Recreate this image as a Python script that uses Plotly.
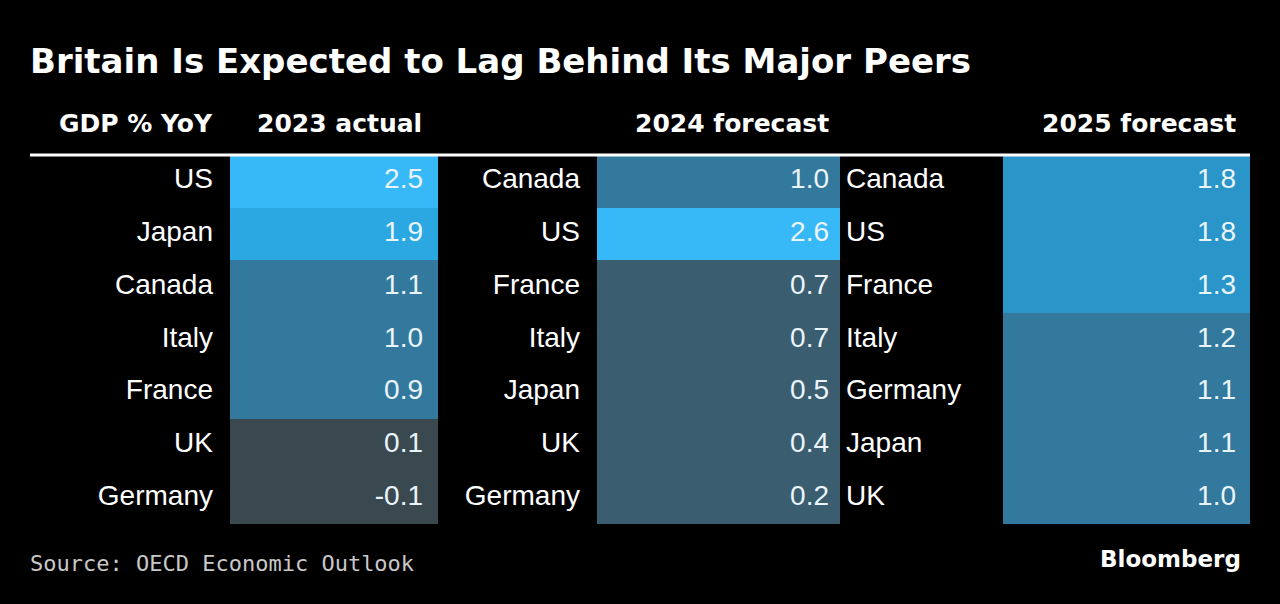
import plotly.graph_objects as go

# ---------------- data ----------------
col_headers = ["2023 actual", "2024 forecast", "2025 forecast"]
countries_2023 = ["US", "Japan", "Canada", "Italy", "France", "UK", "Germany"]
gdp_2023 = [2.5, 1.9, 1.1, 1.0, 0.9, 0.1, -0.1]
countries_2024 = ["Canada", "US", "France", "Italy", "Japan", "UK", "Germany"]
gdp_2024 = [1.0, 2.6, 0.7, 0.7, 0.5, 0.4, 0.2]
countries_2025 = ["Canada", "US", "France", "Italy", "Germany", "Japan", "UK"]
gdp_2025 = [1.8, 1.8, 1.3, 1.2, 1.1, 1.1, 1.0]

# colour bins (lower thresholds) and colours
bin_edges = [-99, 0.15, 0.85, 1.25, 1.85, 2.2]
bin_colors = ["#3A4850", "#3A5D70", "#32799D", "#2A95C9", "#2BA8E2", "#36B9F6"]

# ---------------- layout constants ----------------
W, H = 1280, 604
TOP, BOTTOM = 155, 524
cols = [
    dict(countries=countries_2023, vals=gdp_2023, cell=(230, 438), label_x=213, label_anchor="left", val_x=423, head_x=424),
    dict(countries=countries_2024, vals=gdp_2024, cell=(597, 840), label_x=580, label_anchor="left", val_x=829, head_x=831),
    dict(countries=countries_2025, vals=gdp_2025, cell=(1003, 1250), label_x=846, label_anchor="right", val_x=1236, head_x=1238),
]
LABEL_FONT = dict(family="Liberation Sans, Arial, sans-serif", size=28, color="#FFFFFF")
VAL_FONT = dict(family="Liberation Sans, Arial, sans-serif", size=28, color="#EAF4FA")
BOLD_FAMILY = "DejaVu Sans, Verdana, sans-serif"

def bin_index(v):
    idx = 0
    for i, e in enumerate(bin_edges):
        if v >= e:
            idx = i
    return idx

n_bins = len(bin_colors)
colorscale = []
for i, c in enumerate(bin_colors):
    colorscale.append([i / n_bins, c])
    colorscale.append([(i + 1) / n_bins, c])

fig = go.Figure()
for col in cols:
    n = len(col["vals"])
    row_h = (BOTTOM - TOP) / n
    y_edges = [TOP + i * row_h for i in range(n + 1)]
    y_centers = [TOP + (i + 0.5) * row_h for i in range(n)]
    z = [[bin_index(v) + 0.5] for v in col["vals"]]
    fig.add_trace(go.Heatmap(
        x=list(col["cell"]), y=y_edges, z=z,
        zmin=0, zmax=n_bins, colorscale=colorscale, showscale=False,
        hoverinfo="skip",
    ))
    fig.add_trace(go.Scatter(
        x=[col["val_x"]] * n, y=y_centers, mode="text",
        text=[f"{v:.1f}" for v in col["vals"]],
        textposition="middle left", textfont=VAL_FONT, hoverinfo="skip",
    ))
    fig.add_trace(go.Scatter(
        x=[col["label_x"]] * n, y=y_centers, mode="text",
        text=col["countries"],
        textposition="middle " + col["label_anchor"], textfont=LABEL_FONT, hoverinfo="skip",
    ))

annotations = [
    dict(text="<b>Britain Is Expected to Lag Behind Its Major Peers</b>", x=28, y=61,
         xanchor="left", yanchor="middle", showarrow=False,
         font=dict(family=BOLD_FAMILY, size=34, color="#FFFFFF")),
    dict(text="<b>GDP % YoY</b>", x=215, y=123, xanchor="right", yanchor="middle", showarrow=False,
         font=dict(family=BOLD_FAMILY, size=25, color="#FFFFFF")),
    dict(text="Source: OECD Economic Outlook", x=28, y=563, xanchor="left", yanchor="middle", showarrow=False,
         font=dict(family="DejaVu Sans Mono, monospace", size=22, color="#C8C8C8")),
    dict(text="<b>Bloomberg</b>", x=1243, y=559, xanchor="right", yanchor="middle", showarrow=False,
         font=dict(family=BOLD_FAMILY, size=23, color="#FFFFFF")),
]
for col, h in zip(cols, col_headers):
    annotations.append(dict(text=f"<b>{h}</b>", x=col["head_x"], y=123, xanchor="right", yanchor="middle",
                            showarrow=False,
                            font=dict(family=BOLD_FAMILY, size=25, color="#FFFFFF")))

fig.update_layout(
    width=W, height=H,
    paper_bgcolor="#000000", plot_bgcolor="#000000",
    margin=dict(l=0, r=0, t=0, b=0),
    showlegend=False,
    xaxis=dict(range=[0, W], visible=False, fixedrange=True),
    yaxis=dict(range=[H, 0], visible=False, fixedrange=True),
    annotations=annotations,
    shapes=[dict(type="line", x0=30, x1=1250, y0=155, y1=155, line=dict(color="#FFFFFF", width=3))],
)

fig.write_html(
    "out.html",
    config={"displayModeBar": False},
    post_script="document.body.style.margin='0';document.body.style.overflow='hidden';document.body.style.background='#000';",
)
